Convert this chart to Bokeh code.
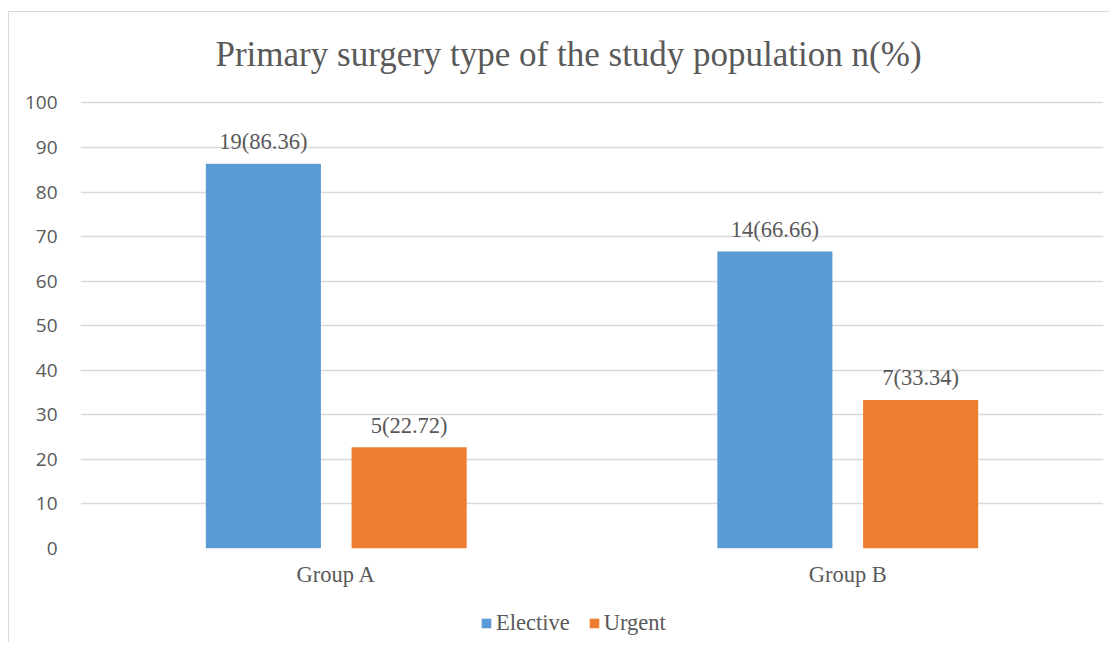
from bokeh.plotting import figure
from bokeh.layouts import column
from bokeh.models import (ColumnDataSource, FactorRange, Range1d, Legend,
                          LegendItem, SingleIntervalTicker, Title)
from bokeh.transform import dodge
from bokeh.core.properties import value
from bokeh.embed import file_html
from bokeh.resources import INLINE

# ---- data ----
groups = ["Group A", "Group B"]
elective = [86.36, 66.66]
urgent = [22.72, 33.34]
elective_labels = ["19(86.36)", "14(66.66)"]
urgent_labels = ["5(22.72)", "7(33.34)"]
series_names = ["Elective", "Urgent"]
title_text = "Primary surgery type of the study population n(%)"

BLUE = "#5B9BD5"
ORANGE = "#ED7D31"
GRAY_TXT = "#595959"
GRID = "#D9D9D9"
SERIF = "Liberation Serif"

src = ColumnDataSource(dict(g=groups, e=elective, u=urgent,
                            el=elective_labels, ul=urgent_labels))

p = figure(width=1109, height=600, x_range=FactorRange(*groups),
           y_range=Range1d(0, 101), output_backend="svg",
           toolbar_location=None, min_border_left=80, min_border_right=6,
           min_border_top=98, min_border_bottom=52)
p.outline_line_color = None
p.background_fill_color = "white"
p.border_fill_alpha = 0
p.styles = {
    "background": "linear-gradient(#D9D9D9,#D9D9D9) 8px 11px / 1px 100% no-repeat, "
                  "linear-gradient(#D9D9D9,#D9D9D9) 8px 11px / 100% 1px no-repeat, white"
}

off = 0.1425
bw = 0.225
p.vbar(x=dodge("g", -off, range=p.x_range), top="e", width=bw, source=src,
       fill_color=BLUE, line_color=None)
p.vbar(x=dodge("g", off, range=p.x_range), top="u", width=bw, source=src,
       fill_color=ORANGE, line_color=None)

p.text(x=dodge("g", -off, range=p.x_range), y="e", text="el", source=src,
       text_align="center", text_baseline="alphabetic", y_offset=-22,
       text_font=value(SERIF), text_font_size="22.5px", text_color=GRAY_TXT)
p.text(x=dodge("g", off, range=p.x_range), y="u", text="ul", source=src,
       text_align="center", text_baseline="alphabetic", y_offset=-22,
       text_font=value(SERIF), text_font_size="22.5px", text_color=GRAY_TXT)

# axes
p.yaxis.ticker = SingleIntervalTicker(interval=10)
p.yaxis.axis_line_color = None
p.yaxis.major_tick_line_color = None
p.yaxis.minor_tick_line_color = None
p.yaxis.major_label_standoff = 17
p.yaxis.major_label_text_font = "Open Sans"
p.yaxis.major_label_text_font_size = "19px"
p.yaxis.major_label_text_color = GRAY_TXT

p.xaxis.axis_line_color = None
p.xaxis.major_tick_line_color = None
p.xaxis.minor_tick_line_color = None
p.xaxis.major_label_standoff = 7
p.xaxis.major_label_text_font = SERIF
p.xaxis.major_label_text_font_size = "22.5px"
p.xaxis.major_label_text_color = GRAY_TXT

p.xgrid.grid_line_color = None
p.ygrid.grid_line_color = GRID
p.ygrid.grid_line_width = 1.5

# title
p.add_layout(Title(text=title_text, align="left", offset=135, standoff=50,
                   text_font=SERIF, text_font_size="35px",
                   text_font_style="normal", text_color=GRAY_TXT), "above")

# legend strip (separate small figure under the chart; its view window is
# placed far above the bars so only the legend is visible)
lg = figure(width=1109, height=42, x_range=FactorRange(*groups),
            y_range=Range1d(1000, 1042), output_backend="svg",
            toolbar_location=None, min_border_left=0, min_border_right=0,
            min_border_top=0, min_border_bottom=0)
lg.axis.visible = False
lg.grid.visible = False
lg.outline_line_color = None
lg.background_fill_alpha = 0
lg.border_fill_alpha = 0
lg.styles = {
    "background": "linear-gradient(#D9D9D9,#D9D9D9) 8px 0px / 1px 100% no-repeat, white"
}
d1 = lg.vbar(x=dodge("g", -off, range=lg.x_range), top="e", width=bw, source=src,
             fill_color=BLUE, line_color=None)
d2 = lg.vbar(x=dodge("g", off, range=lg.x_range), top="u", width=bw, source=src,
             fill_color=ORANGE, line_color=None)
legend = Legend(items=[LegendItem(label=series_names[0], renderers=[d1]),
                       LegendItem(label=series_names[1], renderers=[d2])],
                orientation="horizontal", location=(400, 6),
                glyph_width=12, glyph_height=12, label_standoff=4, spacing=18,
                padding=0, margin=0, border_line_color=None,
                background_fill_alpha=0, label_text_font=SERIF,
                label_text_font_size="22.5px", label_text_color=GRAY_TXT)
lg.add_layout(legend, "center")

layout = column(p, lg, spacing=0)
open("out.html", "w").write(file_html(layout, INLINE))
